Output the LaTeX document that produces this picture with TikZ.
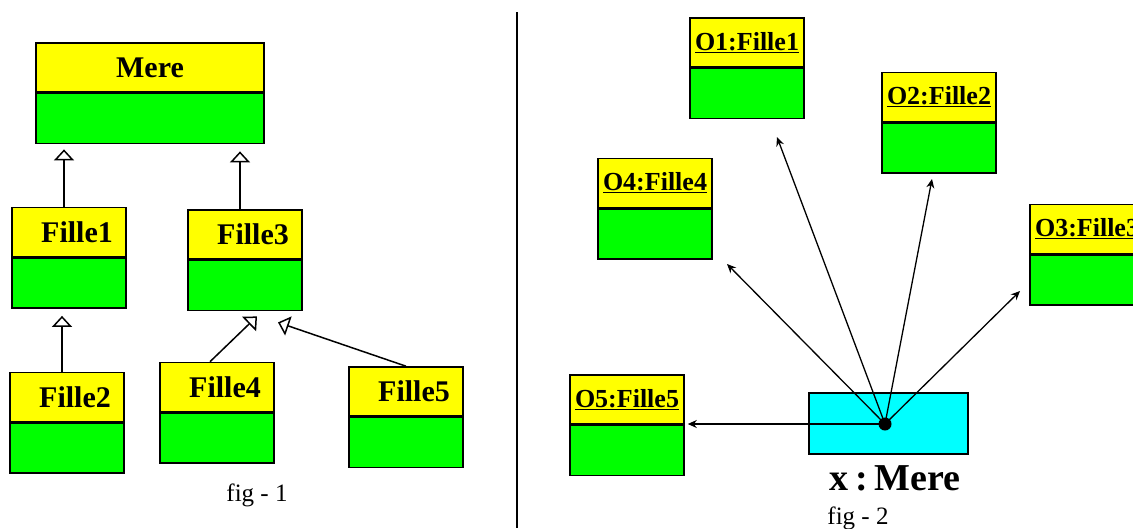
\documentclass[tikz,border=0pt]{standalone}
\usepackage{fontspec}
\setmainfont{Liberation Serif}
\usetikzlibrary{positioning,arrows.meta}
\definecolor{clsyellow}{RGB}{255,255,0}
\definecolor{clsgreen}{RGB}{0,255,0}
\definecolor{objcyan}{RGB}{0,255,255}

\begin{document}
\begin{tikzpicture}[x=1pt, y=-1pt,
    head/.style={draw, line width=1.6pt, fill=clsyellow, minimum width=114pt,
        minimum height=49pt, inner sep=0pt, font=\fontsize{30}{30}\selectfont\bfseries},
    fhead/.style={head, execute at begin node={\hspace*{16pt}}},
    ohead/.style={head, font=\fontsize{26}{26}\selectfont\bfseries},
    body/.style={draw, line width=1.6pt, fill=clsgreen, minimum width=114pt,
        minimum height=50pt, inner sep=0pt},
    inh/.style={line width=1.5pt, -{Triangle[open, width=20pt, length=11pt, line width=1.5pt]}},
    msg/.style={line width=1.3pt, -{Stealth[length=9pt, width=8pt]}}
]
\useasboundingbox (0,0) rectangle (1133,528);

% Separator
\draw[line width=2pt] (517,12) -- (517,528);

% fig 1: classes
\node[head, minimum width=228pt] (Mere) at (150,67.5) {Mere};
\node[body, minimum width=228pt, below=0pt of Mere] (Mereb) {};
\foreach \name/\x/\y in {Fille1/69/232, Fille3/245/234.5, Fille2/67/397,
                         Fille4/217/387, Fille5/406/391.5} {
    \node[fhead] (\name) at (\x,\y) {\name};
    \node[body, below=0pt of \name] (\name b) {};
}

% Inheritance
\draw[inh, shorten >=5pt] ([xshift=-5pt]Fille1.north) -- ([xshift=-5pt]Fille1.north |- Mereb.south);
\draw[inh, shorten >=7pt] ([xshift=-5pt]Fille3.north) -- ([xshift=-5pt]Fille3.north |- Mereb.south);
\draw[inh, shorten >=7pt] ([xshift=-5pt]Fille2.north) -- ([xshift=-5pt]Fille2.north |- Fille1b.south);
\draw[inh] ([xshift=-7pt]Fille4.north) -- ([shift={(12pt,-5pt)}]Fille3b.south);
\draw[inh] (Fille5.north) -- ([shift={(33pt,-11pt)}]Fille3b.south);

\node[font=\fontsize{25}{25}\selectfont, anchor=base] (fig1) at (257,501) {fig - 1};

% fig 2: objects
\foreach \name/\lbl/\x/\y in {o1/O1:Fille1/747/42.5, o2/O2:Fille2/939/97,
                              o4/O4:Fille4/655/183, o3/O3:Fille3/1087/229,
                              o5/O5:Fille5/627/399.5} {
    \node[ohead] (\name) at (\x,\y) {\underline{\lbl}};
    \node[body, below=0pt of \name] (\name b) {};
}

\node[draw, line width=1.6pt, fill=objcyan, minimum width=159pt, minimum height=61pt] (x) at (888.5,423.5) {};
\node[font=\fontsize{38}{38}\selectfont\bfseries, anchor=base] (xlbl) at (895,490) {x\,:\,Mere};
\fill (885,424) circle (6.5pt);
\coordinate (src) at (885,424);

% Messages
\coordinate (t1) at (777,137);
\coordinate (t2) at (932,179);
\coordinate (t4) at (727,264);
\coordinate (t3) at (1020,291);
\draw[msg] (src) -- (t1);
\draw[msg] (src) -- (t2);
\draw[msg] (src) -- (t4);
\draw[msg] (src) -- (t3);
\draw[msg, shorten >=3pt] (src) -- (src -| o5b.east);

\node[font=\fontsize{25}{25}\selectfont, anchor=base] (fig2) at (858,524) {fig - 2};
\end{tikzpicture}
\end{document}
